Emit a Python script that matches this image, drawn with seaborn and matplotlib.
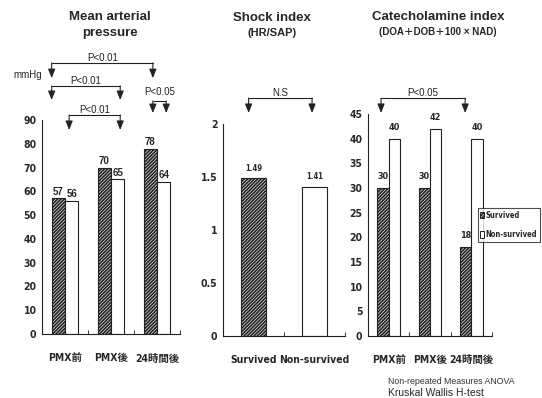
import matplotlib
matplotlib.use("Agg")
import matplotlib.pyplot as plt
from matplotlib import font_manager
from matplotlib.patches import Patch
import seaborn as sns
import pandas as pd

# ---- data ----
time_points = ["PMX前", "PMX後", "24時間後"]
groups = ["Survived", "Non-survived"]
map_survived = [57, 70, 78]
map_nonsurvived = [56, 65, 64]
shock_groups = ["Survived", "Non-survived"]
shock_values = [1.49, 1.41]
cat_survived = [30, 30, 18]
cat_nonsurvived = [40, 42, 40]

sns.set_theme(style="white")
plt.rcParams["hatch.linewidth"] = 1.25

# pick a narrow bold face for the tick and value labels, if one is installed
def find_narrow():
    prefs = ["NotoSans-ExtraCondensedBold", "NotoSans-CondensedBold", "LiberationSansNarrow-Bold",
             "DejaVuSansCondensed-Bold", "Narrow", "Condensed"]
    fonts = [f for f in font_manager.fontManager.ttflist
             if f.weight in (700, "bold") and f.style == "normal"]
    for p in prefs:
        for f in fonts:
            if p in f.fname.split("/")[-1]:
                return f.name, f.stretch
    return "Liberation Sans", "normal"


NARROW_NAME, NARROW_STRETCH = find_narrow()
NARROW = [NARROW_NAME, "Noto Sans CJK JP", "DejaVu Sans"]
SANS = ["Liberation Sans", "Noto Sans CJK JP", "DejaVu Sans"]
plt.rcParams["font.family"] = SANS


def narrow_font(size):
    return font_manager.FontProperties(family=NARROW, weight="bold", stretch=NARROW_STRETCH, size=size)


HATCH = "//////////"

fig = plt.figure(figsize=(5.42, 3.98), dpi=100)
ax1 = fig.add_axes([0.0775, 0.1608, 0.2546, 0.5377])
ax2 = fig.add_axes([0.4114, 0.1558, 0.2251, 0.5326])
ax3 = fig.add_axes([0.6790, 0.1558, 0.2288, 0.5578])


def long_table(cats, s, n):
    return pd.DataFrame({
        "time": cats * 2,
        "group": [groups[0]] * len(cats) + [groups[1]] * len(cats),
        "value": list(s) + list(n),
    })


def style_axis(ax, ncat, ymax, yticks, ylabels):
    for side in ("top", "right"):
        ax.spines[side].set_visible(False)
    for side in ("left", "bottom"):
        ax.spines[side].set_color("#222222")
        ax.spines[side].set_linewidth(0.8)
    ax.set_xlim(-0.5, ncat - 0.5)
    ax.set_ylim(0, ymax)
    ax.set_yticks(yticks)
    ax.set_yticklabels(ylabels)
    for lab in ax.get_yticklabels():
        lab.set_fontproperties(narrow_font(7.5))
    ax.set_xticks([i + 0.5 for i in range(ncat)], minor=True)
    ax.tick_params(axis="x", which="minor", direction="in", length=3, width=0.7, color="#333333", bottom=True)
    ax.tick_params(axis="x", which="major", length=0, pad=14)
    ax.tick_params(axis="y", length=0, pad=4)
    ax.set_xlabel("")
    ax.set_ylabel("")
    for lab in ax.get_xticklabels():
        lab.set_fontproperties(narrow_font(7.5))


def hatch_first(ax):
    for bar in ax.containers[0]:
        bar.set_hatch(HATCH)


def bracket(ax, x1, x2, y, tip, text, fs=7):
    kw = dict(color="#222222", lw=0.8, clip_on=False)
    ax.plot([x1, x2], [y, y], **kw)
    for x in (x1, x2):
        ax.annotate("", xy=(x, tip), xytext=(x, y), annotation_clip=False,
                    arrowprops=dict(arrowstyle="-|>,head_length=0.45,head_width=0.18",
                                    color="#222222", lw=0.8, shrinkA=0, shrinkB=0))
    if text:
        ax.text((x1 + x2) / 2, y, text, ha="center", va="bottom", fontsize=fs,
                color="#222222", clip_on=False)


# ---- Mean arterial pressure ----
df1 = long_table(time_points, map_survived, map_nonsurvived)
sns.barplot(data=df1, x="time", y="value", hue="group", palette=["white", "white"],
            edgecolor="#222222", linewidth=0.8, width=0.58, saturation=1,
            legend=False, ax=ax1)
hatch_first(ax1)
style_axis(ax1, 3, 90, range(0, 91, 10), [str(v) for v in range(0, 91, 10)])
for c in ax1.containers:
    ax1.bar_label(c, fmt="%d", padding=1, fontsize=7, fontweight="bold")
bracket(ax1, -0.29, 1.91, 114.0, 107.6, "P<0.01")
bracket(ax1, -0.29, 1.20, 104.3, 98.4, "P<0.01")
bracket(ax1, 0.09, 1.20, 92.1, 85.8, "P<0.01")
bracket(ax1, 1.91, 2.20, 98.0, 92.9, "")
ax1.text(2.05, 99.5, "P<0.05", ha="center", va="bottom", fontsize=7, color="#222222", clip_on=False)

# ---- Shock index ----
df2 = pd.DataFrame({"group": shock_groups, "value": shock_values})
sns.barplot(data=df2, x="group", y="value", hue="group", palette=["white", "white"],
            edgecolor="#222222", linewidth=0.8, width=0.41, saturation=1,
            legend=False, ax=ax2)
ax2.patches[0].set_hatch(HATCH)
style_axis(ax2, 2, 2, [0, 0.5, 1, 1.5, 2], ["0", "0.5", "1", "1.5", "2"])
for c, v in zip(ax2.containers, shock_values):
    ax2.bar_label(c, labels=[f"{v:.2f}"], padding=4, fontproperties=narrow_font(5.5))
bracket(ax2, -0.08, 0.96, 2.245, 2.104, "N.S")

# ---- Catecholamine index ----
df3 = long_table(time_points, cat_survived, cat_nonsurvived)
sns.barplot(data=df3, x="time", y="value", hue="group", palette=["white", "white"],
            edgecolor="#222222", linewidth=0.8, width=0.55, saturation=1,
            legend=False, ax=ax3)
hatch_first(ax3)
style_axis(ax3, 3, 45, range(0, 46, 5), [str(v) for v in range(0, 46, 5)])
for c in ax3.containers:
    ax3.bar_label(c, fmt="%d", padding=5, fontproperties=narrow_font(6.5))
bracket(ax3, -0.185, 1.85, 48.2, 45.2, "P<0.05")

# ---- titles and notes ----
fig.text(110 / 542, 1 - 17 / 398, "Mean arterial", ha="center", va="center", fontsize=9.5, fontweight="bold")
fig.text(110 / 542, 1 - 33 / 398, "pressure", ha="center", va="center", fontsize=9.5, fontweight="bold")
fig.text(272 / 542, 1 - 18 / 398, "Shock index", ha="center", va="center", fontsize=9.5, fontweight="bold")
fig.text(272 / 542, 1 - 33 / 398, "(HR/SAP)", ha="center", va="center", fontsize=8, fontweight="bold")
fig.text(438 / 542, 1 - 17 / 398, "Catecholamine index", ha="center", va="center", fontsize=9.5, fontweight="bold")
fig.text(438 / 542, 1 - 32 / 398, "(DOA＋DOB＋100 × NAD)", ha="center", va="center", fontsize=7, fontweight="bold")
fig.text(13 / 542, 1 - 75 / 398, "mmHg", ha="left", va="center", fontsize=7)
fig.text(388 / 542, 1 - 381 / 398, "Non-repeated Measures ANOVA", ha="left", va="center", fontsize=6.3, color="#333333")
fig.text(388 / 542, 1 - 393 / 398, "Kruskal Wallis H-test", ha="left", va="center", fontsize=7.5)

handles = [Patch(facecolor="white", edgecolor="#222222", hatch=HATCH, lw=0.7),
           Patch(facecolor="white", edgecolor="#222222", lw=0.7)]
leg = fig.legend(handles, groups, loc="upper right", bbox_to_anchor=(540 / 542, 1 - 208 / 398),
                 frameon=True, fancybox=False, handlelength=0.5, handleheight=1.0,
                 handletextpad=0.2, borderpad=0.35, labelspacing=1.4, borderaxespad=0,
                 prop=narrow_font(5.5))
leg.get_frame().set_edgecolor("#222222")
leg.get_frame().set_linewidth(0.8)

fig.savefig("out.png", dpi=100, facecolor="white")
